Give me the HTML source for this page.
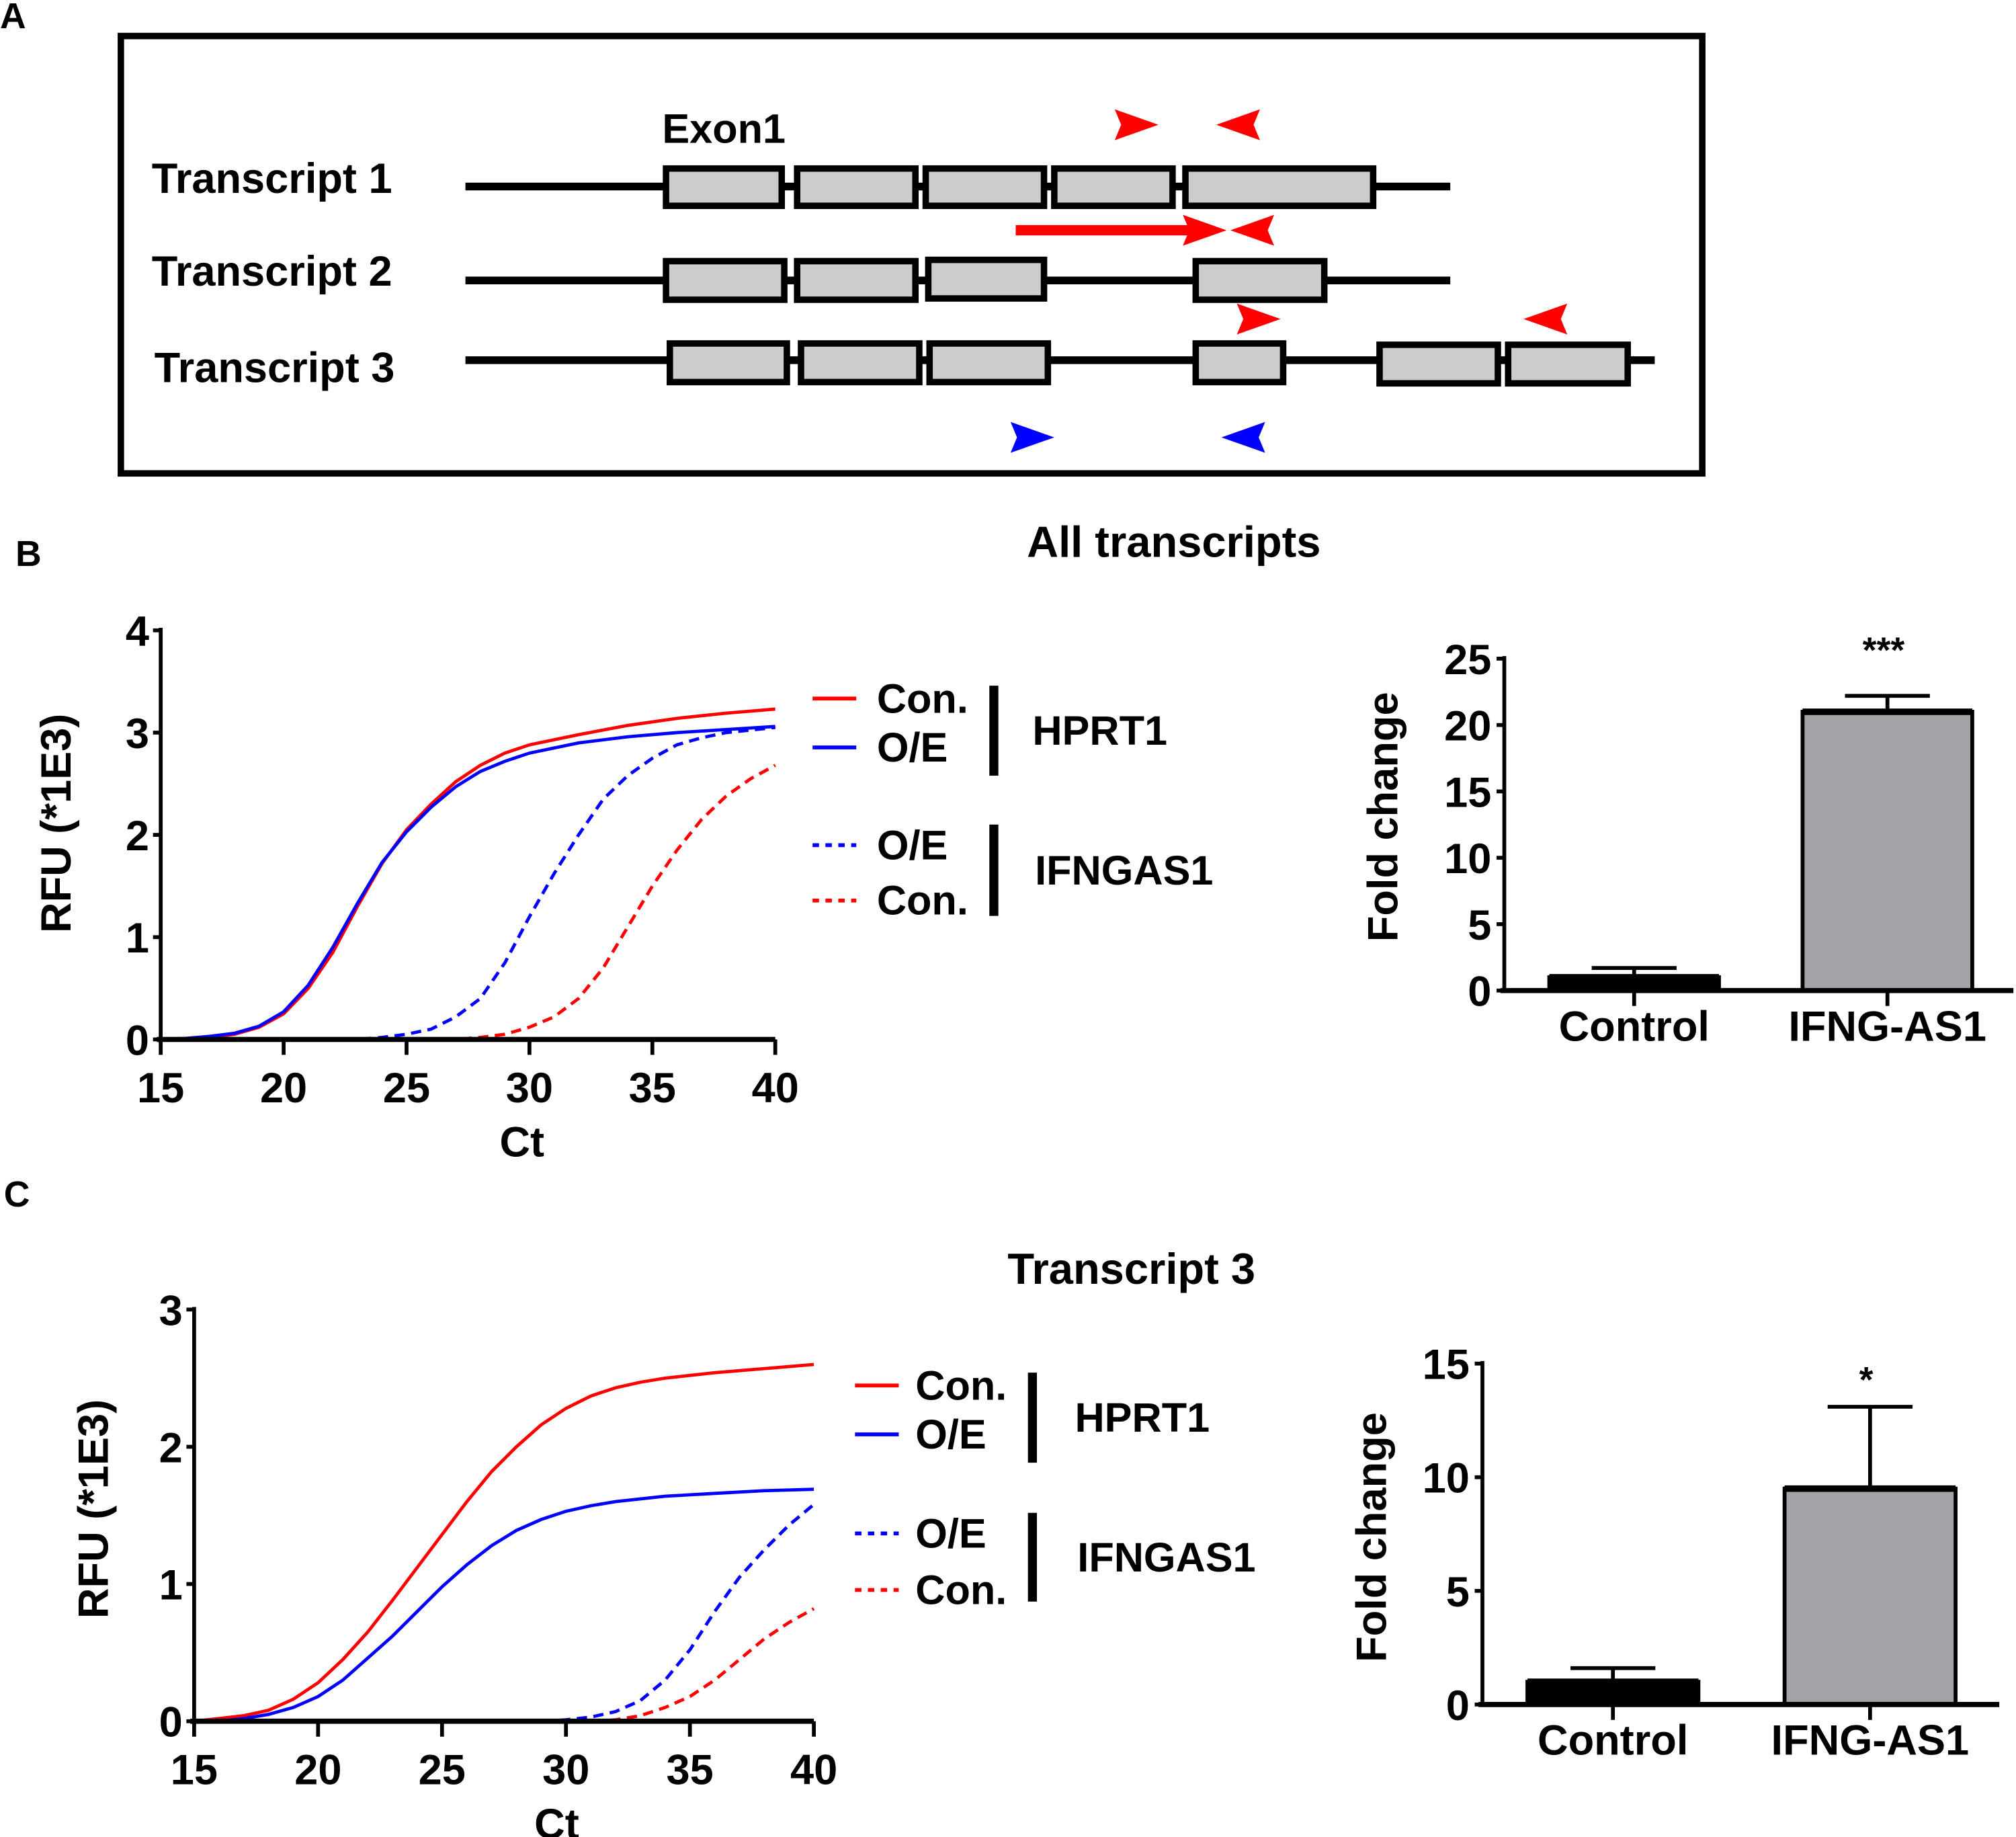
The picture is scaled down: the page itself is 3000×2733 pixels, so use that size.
<!DOCTYPE html>
<html><head><meta charset="utf-8"><style>
html,body{margin:0;padding:0;background:#fff}
svg{display:block}
text{font-family:"Liberation Sans",Arial,sans-serif;font-weight:bold;fill:#000}
</style></head><body>
<svg id="fig" width="3000" height="2733" viewBox="0 0 1568 1428" preserveAspectRatio="none" xmlns="http://www.w3.org/2000/svg">
<g id="panelA">
<text x="0" y="22" font-size="28">A</text>
<rect x="94" y="28" width="1230" height="340" fill="none" stroke="#000" stroke-width="5"/>
<text x="515" y="111" font-size="32">Exon1</text>
<text x="118" y="150" font-size="33">Transcript 1</text>
<text x="118" y="222" font-size="33">Transcript 2</text>
<text x="120" y="297" font-size="33">Transcript 3</text>
<line x1="362" y1="145" x2="1128" y2="145" stroke="#000" stroke-width="6"/>
<line x1="362" y1="218" x2="1128" y2="218" stroke="#000" stroke-width="6"/>
<line x1="362" y1="280" x2="1287" y2="280" stroke="#000" stroke-width="6"/>
<g id="exons"></g>
<g id="primers">
<line x1="790" y1="179" x2="930" y2="179" stroke="#f00" stroke-width="8"/>
</g>
</g>
<g>
<text x="12" y="440" font-size="28">B</text>
<text x="913" y="433" font-size="34" text-anchor="middle">All transcripts</text>
<g id="lineB"></g>
<g id="barB"></g>
</g>
<g>
<text x="3" y="938" font-size="28">C</text>
<text x="880" y="998" font-size="34" text-anchor="middle">Transcript 3</text>
<g id="lineC"></g>
<g id="barC"></g>
</g>
</svg>
<script>
const NS="http://www.w3.org/2000/svg";
// ---- Chart B data ----
const ctB_hprtCon=[[15,0],[16,0.01],[17,0.02],[18,0.05],[19,0.12],[20,0.25],[21,0.5],[22,0.85],[23,1.3],[24,1.72],[25,2.05],[26,2.3],[27,2.52],[28,2.68],[29,2.8],[30,2.88],[32,2.98],[34,3.07],[36,3.14],[38,3.19],[40,3.23]];
const ctB_hprtOE=[[15,0],[16,0.01],[17,0.03],[18,0.06],[19,0.13],[20,0.27],[21,0.53],[22,0.9],[23,1.33],[24,1.73],[25,2.03],[26,2.27],[27,2.47],[28,2.62],[29,2.72],[30,2.8],[32,2.9],[34,2.96],[36,3.0],[38,3.03],[40,3.06]];
const ctB_ifnOE=[[15,0],[23,0],[24,0.02],[25,0.05],[26,0.1],[27,0.22],[28,0.4],[29,0.75],[30,1.2],[31,1.62],[32,2.0],[33,2.35],[34,2.58],[35,2.75],[36,2.88],[37,2.95],[38,3.0],[40,3.05]];
const ctB_ifnCon=[[15,0],[27,0],[28,0.02],[29,0.05],[30,0.12],[31,0.22],[32,0.4],[33,0.7],[34,1.1],[35,1.5],[36,1.85],[37,2.15],[38,2.38],[39,2.55],[40,2.68]];
const xTicks=[15,20,25,30,35,40];
const yTicksB=[0,1,2,3,4];
// ---- Chart C data ----
const ctC_hprtCon=[[15,0],[16,0.02],[17,0.04],[18,0.08],[19,0.16],[20,0.28],[21,0.45],[22,0.65],[23,0.88],[24,1.12],[25,1.36],[26,1.6],[27,1.82],[28,2.0],[29,2.16],[30,2.28],[31,2.37],[32,2.43],[33,2.47],[34,2.5],[36,2.54],[38,2.57],[40,2.6]];
const ctC_hprtOE=[[15,0],[16,0],[17,0.02],[18,0.05],[19,0.1],[20,0.18],[21,0.3],[22,0.46],[23,0.62],[24,0.8],[25,0.98],[26,1.14],[27,1.28],[28,1.39],[29,1.47],[30,1.53],[31,1.57],[32,1.6],[34,1.64],[36,1.66],[38,1.68],[40,1.69]];
const ctC_ifnOE=[[21,0],[29,0],[30,0.01],[31,0.03],[32,0.07],[33,0.15],[34,0.3],[35,0.52],[36,0.8],[37,1.05],[38,1.25],[39,1.43],[40,1.58]];
const ctC_ifnCon=[[21,0],[31,0],[32,0.01],[33,0.04],[34,0.1],[35,0.18],[36,0.3],[37,0.45],[38,0.6],[39,0.72],[40,0.82]];
const yTicksC=[0,1,2,3];
// ---- Bar data ----
const barCats=["Control","IFNG-AS1"];
const barB_vals=[1,21];
const barB_err=[1.7,22.2];
const barB_ticks=[0,5,10,15,20,25];
const barB_sig="***";
const barC_vals=[1,9.5];
const barC_err=[1.6,13.1];
const barC_ticks=[0,5,10,15];
const barC_sig="*";

function el(parent,tag,attrs){const e=document.createElementNS(NS,tag);for(const k in attrs)e.setAttribute(k,attrs[k]);parent.appendChild(e);return e;}
function txt(parent,x,y,s,size,anchor){const t=el(parent,"text",{x:x,y:y,"font-size":size,"text-anchor":anchor||"start"});t.textContent=s;return t;}

const exonG=document.getElementById("exons");
const exons=[[518,608,131,160],[620,712,131,160],[720,812,131,160],[820,912,131,160],[922,1068,131,160],
[518,610,203,233],[620,712,203,233],[722,812,202,232],[930,1030,203,233],
[521,612,267,297],[623,715,267,297],[723,815,267,297],[930,998,267,297],[1073,1165,268,298],[1173,1266,268,298]];
exons.forEach((e,i)=>{const r=el(exonG,"rect",{x:e[0],y:e[2],width:e[1]-e[0],height:e[3]-e[2],fill:"#cccccc",stroke:"#000","stroke-width":5});

});
const prG=document.getElementById("primers");
function head(x,y,dir,color){const w=34,h=12;let d;
 if(dir>0) d=`M${x},${y-h} L${x+w},${y} L${x},${y+h} L${x+5},${y} Z`;
 else d=`M${x+w},${y-h} L${x},${y} L${x+w},${y+h} L${x+w-5},${y} Z`;
 const p=el(prG,"path",{d:d,fill:color});
 
 }
head(867,97,1,"#f00");head(946,97,-1,"#f00");
head(920,179,1,"#f00");head(957,179,-1,"#f00");
head(962,248,1,"#f00");head(1185,248,-1,"#f00");
head(786,340,1,"#00f");head(950,340,-1,"#00f");

function lineChart(gid,cfg){
 const g=document.getElementById(gid);
 const X=v=>cfg.x0+(v-15)/25*(cfg.x1-cfg.x0);
 const Y=v=>cfg.y0-(v)/cfg.ymax*(cfg.y0-cfg.y1);
 cfg.series.forEach(s=>{
  const d=s.data.map((p,i)=>(i?"L":"M")+X(p[0]).toFixed(1)+","+Y(p[1]).toFixed(1)).join(" ");
  const p=el(g,"path",{d:d,fill:"none",stroke:s.color,"stroke-width":2.5,"stroke-dasharray":s.dash?"8,5":"none"});
  
  
 });
 const ya=el(g,"line",{x1:cfg.x0,y1:Y(cfg.ymax)-2,x2:cfg.x0,y2:cfg.y0+3,stroke:"#000","stroke-width":3});
 
 
 const xa=el(g,"line",{x1:cfg.x0-3,y1:cfg.y0,x2:cfg.x1,y2:cfg.y0,stroke:"#000","stroke-width":4});
 
 
 cfg.yticks.forEach(v=>{el(g,"line",{x1:cfg.x0-6,y1:Y(v),x2:cfg.x0,y2:Y(v),stroke:"#000","stroke-width":3});
  const t=txt(g,cfg.x0-9,Y(v)+12,String(v),33,"end");
  
  });
 xTicks.forEach(v=>{el(g,"line",{x1:X(v),y1:cfg.y0,x2:X(v),y2:cfg.y0+12,stroke:"#000","stroke-width":3});
  const t=txt(g,X(v),cfg.y0+49,String(v),33,"middle");
  
  });
 const ct=txt(g,cfg.ctx,cfg.y0+91,"Ct",33,"middle");
 
 
 const yl=txt(g,0,0,"RFU (*1E3)",33,"middle");
 yl.setAttribute("transform",`translate(${cfg.ylx},${cfg.yly}) rotate(-90)`);
 
 
 const L=cfg.leg;
 const items=[["Con.","#f00",false,L.y[0]],["O/E","#00f",false,L.y[1]],["O/E","#00f",true,L.y[2]],["Con.","#f00",true,L.y[3]]];
 items.forEach(it=>{const ln=el(g,"line",{x1:L.lx,y1:it[3],x2:L.lx+34,y2:it[3],stroke:it[1],"stroke-width":3,"stroke-dasharray":it[2]?"5,5":"none"});
  
  
  const t=txt(g,L.tx,it[3]+11,it[0],32);
  
  });
 el(g,"line",{x1:L.bx,y1:L.b1[0],x2:L.bx,y2:L.b1[1],stroke:"#000","stroke-width":7});
 el(g,"line",{x1:L.bx,y1:L.b2[0],x2:L.bx,y2:L.b2[1],stroke:"#000","stroke-width":7});
 const h=txt(g,L.gx,(L.b1[0]+L.b1[1])/2+11,"HPRT1",32);
 
 
 const f=txt(g,L.gx+2,(L.b2[0]+L.b2[1])/2+11,"IFNGAS1",32);
 
 
}
lineChart("lineB",{x0:125,x1:603,y0:808,y1:490,ymax:4,yticks:yTicksB,ylx:55,yly:640,ctx:406,
 series:[{data:ctB_hprtCon,color:"#f00",name:"hprt1-con-curve"},{data:ctB_hprtOE,color:"#00f",name:"hprt1-oe-curve"},
 {data:ctB_ifnOE,color:"#00f",dash:1,name:"ifngas1-oe-curve"},{data:ctB_ifnCon,color:"#f00",dash:1,name:"ifngas1-con-curve"}],
 leg:{lx:632,tx:682,y:[543,581,657,700],bx:773,b1:[533,603],b2:[641,712],gx:803}});
lineChart("lineC",{x0:151,x1:633,y0:1338,y1:1018,ymax:3,yticks:yTicksC,ylx:84,yly:1173,ctx:433,
 series:[{data:ctC_hprtCon,color:"#f00",name:"hprt1-con-curve"},{data:ctC_hprtOE,color:"#00f",name:"hprt1-oe-curve"},
 {data:ctC_ifnOE,color:"#00f",dash:1,name:"ifngas1-oe-curve"},{data:ctC_ifnCon,color:"#f00",dash:1,name:"ifngas1-con-curve"}],
 leg:{lx:665,tx:712,y:[1077,1115,1192,1236],bx:803,b1:[1067,1137],b2:[1176,1245],gx:836}});

function barChart(gid,cfg){
 const g=document.getElementById(gid);
 const Y=v=>cfg.y0-v/cfg.ymax*(cfg.y0-cfg.y1);
 const ya=el(g,"line",{x1:cfg.x0,y1:cfg.y1-2,x2:cfg.x0,y2:cfg.y0,stroke:"#000","stroke-width":3});
 
 
 cfg.ticks.forEach(v=>{el(g,"line",{x1:cfg.x0-6,y1:Y(v),x2:cfg.x0,y2:Y(v),stroke:"#000","stroke-width":3});
  const t=txt(g,cfg.x0-10,Y(v)+12,String(v),33,"end");
  
  });
 cfg.vals.forEach((v,i)=>{
  const bx=cfg.bx[i],bw=cfg.bw,cx=bx+bw/2;
  const e=el(g,"line",{x1:cx,y1:Y(cfg.err[i]),x2:cx,y2:Y(v),stroke:"#000","stroke-width":3});
  
  
  el(g,"line",{x1:cx-33,y1:Y(cfg.err[i]),x2:cx+33,y2:Y(cfg.err[i]),stroke:"#000","stroke-width":3});
  const r=el(g,"rect",{x:bx,y:Y(v),width:bw,height:cfg.y0-Y(v),fill:i?"#a3a3a7":"#000",stroke:"#000","stroke-width":3});
  
  
  el(g,"line",{x1:bx,y1:Y(v),x2:bx+bw,y2:Y(v),stroke:"#000","stroke-width":5});
  el(g,"line",{x1:cx,y1:cfg.y0,x2:cx,y2:cfg.y0+12,stroke:"#000","stroke-width":3});
  const t=txt(g,cx,cfg.y0+39,barCats[i],33,"middle");
  
  
 });
 const xa=el(g,"line",{x1:cfg.x0-3,y1:cfg.y0,x2:cfg.x1,y2:cfg.y0,stroke:"#000","stroke-width":4});
 
 
 const s=txt(g,cfg.bx[1]+cfg.bw/2-3,cfg.sigY,cfg.sig,28,"middle");
 
 
 const yl=txt(g,0,0,"Fold change",33,"middle");
 yl.setAttribute("transform",`translate(${cfg.ylx},${cfg.yly}) rotate(-90)`);
 
 
}
barChart("barB",{x0:1170,x1:1566,y0:770,y1:512,ymax:25,ticks:barB_ticks,vals:barB_vals,err:barB_err,bx:[1205,1402],bw:132,sig:barB_sig,sigY:515,ylx:1087,yly:635});
barChart("barC",{x0:1153,x1:1555,y0:1325,y1:1060,ymax:15,ticks:barC_ticks,vals:barC_vals,err:barC_err,bx:[1188,1388],bw:133,sig:barC_sig,sigY:1082,ylx:1078,yly:1195});
</script>
</body></html>
